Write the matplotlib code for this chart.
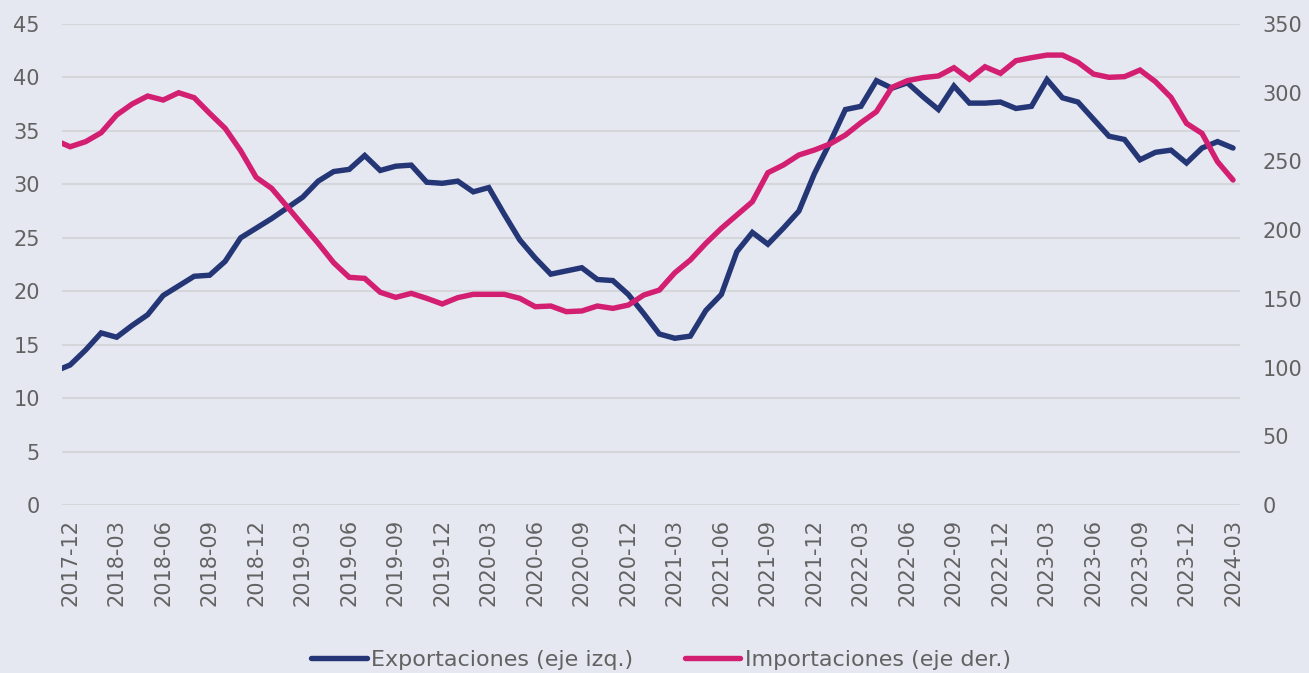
import numpy as np
import pandas as pd
import matplotlib.pyplot as plt

plt.rcParams['font.family'] = ['DejaVu Sans']

# meses 2017-11 .. 2024-03 (el primero solo asoma en el borde izquierdo)
start_month = '2017-11'
exportaciones = [12.5,
                 13.1, 14.5, 16.1, 15.7, 16.8, 17.8, 19.6, 20.5, 21.4, 21.5, 22.8, 25.0,
                 25.9, 26.8, 27.8, 28.8, 30.3, 31.2, 31.4, 32.7, 31.3, 31.7, 31.8, 30.2,
                 30.1, 30.3, 29.3, 29.7, 27.2, 24.8, 23.1, 21.6, 21.9, 22.2, 21.1, 21.0,
                 19.7, 17.9, 16.0, 15.6, 15.8, 18.2, 19.7, 23.7, 25.5, 24.4, 25.9, 27.5,
                 31.0, 33.9, 37.0, 37.3, 39.7, 39.0, 39.5, 38.2, 37.0, 39.2, 37.6, 37.6,
                 37.7, 37.1, 37.3, 39.8, 38.1, 37.7, 36.1, 34.5, 34.2, 32.3, 33.0, 33.2,
                 32.0, 33.4, 34.0, 33.4]
importaciones = [265.6,
                 260.7, 264.4, 270.9, 283.8, 291.8, 297.6, 294.7, 300.0, 296.4, 285.0, 274.1, 257.8,
                 238.4, 230.4, 217.1, 203.7, 190.4, 176.3, 165.7, 164.9, 154.8, 151.1, 154.0, 150.4,
                 146.3, 150.9, 153.3, 153.3, 153.3, 150.4, 144.3, 144.8, 140.7, 141.2, 144.8, 143.1,
                 145.5, 152.8, 156.4, 169.0, 178.3, 190.4, 201.3, 211.0, 220.7, 241.8, 247.4, 254.7,
                 258.3, 262.7, 269.2, 278.2, 286.2, 303.9, 308.8, 311.0, 312.2, 318.2, 309.8, 318.9,
                 314.1, 323.3, 325.5, 327.4, 327.4, 322.1, 313.6, 311.2, 311.7, 316.5, 308.0, 296.6,
                 277.7, 270.4, 249.8, 236.5]

meses = pd.period_range(start_month, periods=len(exportaciones), freq='M')
x = np.arange(len(meses)) - 1  # 2017-12 en x=0

azul = '#253676'
rosa = '#d31f72'
fondo = '#e5e8f0'
gris = '#626262'

fig = plt.figure(figsize=(13.09, 6.73), dpi=100, facecolor=fondo)
ax = fig.add_axes([0.0474, 0.2496, 0.8999, 0.7147])
ax.set_facecolor(fondo)
ax2 = ax.twinx()

l1, = ax.plot(x, exportaciones, color=azul, lw=3.9, solid_capstyle='round',
              solid_joinstyle='miter', label='Exportaciones (eje izq.)')
l2, = ax2.plot(x, importaciones, color=rosa, lw=3.9, solid_capstyle='round',
               solid_joinstyle='miter', label='Importaciones (eje der.)')

ax.set_xlim(-0.52, 75.45)
ax.set_ylim(0, 45)
ax2.set_ylim(0, 350)
ax.set_yticks(np.arange(0, 46, 5))
ax2.set_yticks(np.arange(0, 351, 50))

ticks = x[1::3]
ax.set_xticks(ticks)
ax.set_xticklabels([str(m) for m in meses[1::3]], rotation=90)

ax.grid(axis='y', color='#d5d6da', lw=1.5)
ax.set_axisbelow(True)
for a in (ax, ax2):
    for s in a.spines.values():
        s.set_visible(False)
    a.tick_params(length=0, colors=gris, labelsize=15)
ax.tick_params(axis='y', pad=16)
ax2.tick_params(axis='y', pad=16)
ax.tick_params(axis='x', pad=10)

fig.legend(handles=[l1, l2], loc='lower center', bbox_to_anchor=(0.505, -0.025),
           ncol=2, frameon=False, labelcolor=gris,
           handlelength=2.5, handletextpad=0.2, columnspacing=2.3,
           prop={'size': 16})

fig.savefig('out.png', dpi=100, facecolor=fondo)
